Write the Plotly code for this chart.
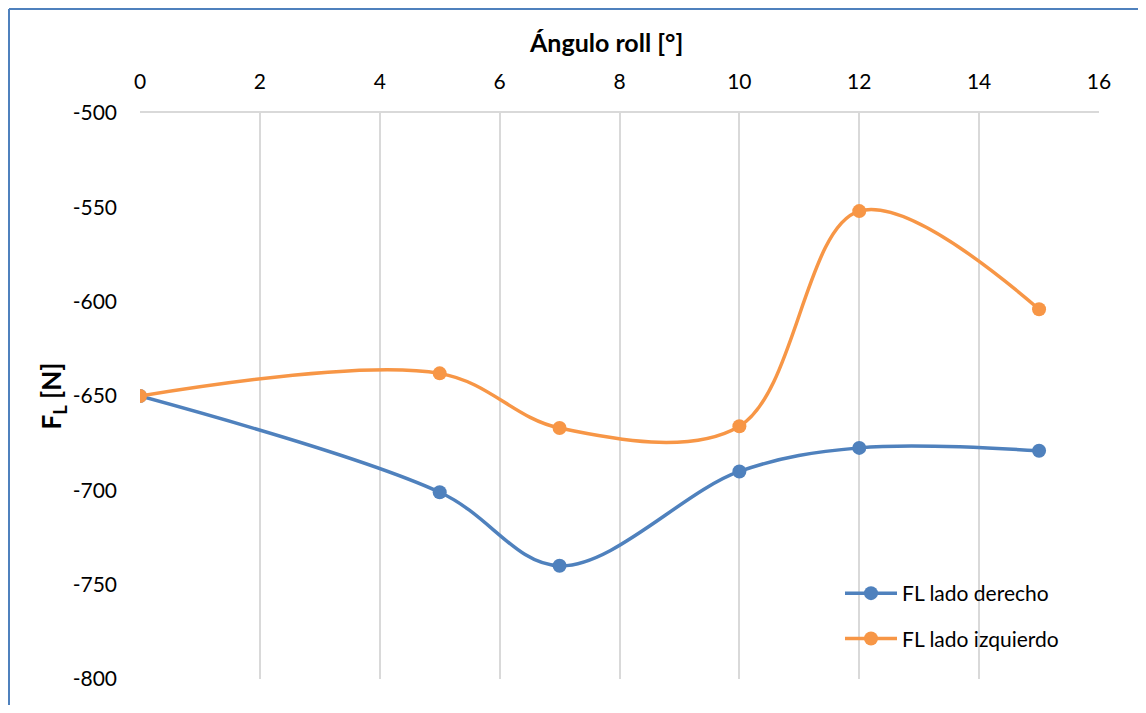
import plotly.graph_objects as go

angles = [0, 5, 7, 10, 12, 15]
fl_derecho = [-650, -701, -740, -690, -677.5, -679]
fl_izquierdo = [-650, -638, -667, -666, -552, -604]
series_names = ["FL lado derecho", "FL lado izquierdo"]
x_ticks = [0, 2, 4, 6, 8, 10, 12, 14, 16]
y_ticks = [-500, -550, -600, -650, -700, -750, -800]
y_tick_labels = ["-500", "-550", "-600", "-650", "-700", "-750", "-800"]

BLUE = "#4F81BD"
ORANGE = "#F79646"
FONT = "Lato"

fig = go.Figure()
fig.add_trace(go.Scatter(
    x=angles, y=fl_derecho, name=series_names[0], mode="lines+markers",
    line=dict(color=BLUE, width=3.5, shape="spline", smoothing=1),
    marker=dict(color=BLUE, size=14), legendgroup="a"))
fig.add_trace(go.Scatter(
    x=angles, y=fl_izquierdo, name=series_names[1], mode="lines+markers",
    line=dict(color=ORANGE, width=3.5, shape="spline", smoothing=1),
    marker=dict(color=ORANGE, size=14), legendgroup="b"))

OFF = 8  # page body margin
W, H = 1146 - 2 * OFF, 713 - 2 * OFF
# plot area in reference (screen) pixel coordinates
PX0, PX1, PY0, PY1 = 140, 1099, 113, 679
L, T = PX0 - OFF, PY0 - OFF
R, B = W - (PX1 - OFF), H - (PY1 - OFF)
pw, ph = PX1 - PX0, PY1 - PY0


def px(xs):
    return (xs - PX0) / pw


def py(ys):
    return (PY1 - ys) / ph


fig.update_layout(
    width=W, height=H,
    margin=dict(l=L, r=R, t=T, b=B, pad=0),
    paper_bgcolor="white", plot_bgcolor="white",
    font=dict(family=FONT, size=21, color="#000000"),
    showlegend=True,
    legend=dict(x=px(840), y=py(573), xanchor="left", yanchor="top",
                bgcolor="rgba(0,0,0,0)", font=dict(size=21, family=FONT),
                tracegroupgap=15, itemwidth=52),
    xaxis=dict(range=[0, 16], tickvals=x_ticks, side="top",
               showgrid=True, gridcolor="#D9D9D9", gridwidth=1.5,
               showline=True, linecolor="#D9D9D9", linewidth=1.5,
               zeroline=False, ticks="", ticklabelstandoff=14,
               tickfont=dict(size=21, family=FONT)),
    yaxis=dict(range=[-800, -500], tickvals=y_ticks, ticktext=y_tick_labels,
               showgrid=False, zeroline=False, showline=False, ticks="",
               ticklabelstandoff=22, tickfont=dict(size=21, family=FONT),
               title=dict(text="<b>F<sub>L</sub> [N]</b>", standoff=3,
                          font=dict(size=26, family=FONT))),
    annotations=[
        dict(text="<b>Ángulo roll [°]</b>", x=px(606), y=py(42), xref="paper", yref="paper",
             showarrow=False, xanchor="center", yanchor="middle",
             font=dict(size=25, family=FONT)),
    ],
    shapes=[
        dict(type="line", xref="paper", yref="paper", x0=px(9), x1=px(1170),
             y0=py(9), y1=py(9), line=dict(color="#4F81BD", width=2)),
        dict(type="line", xref="paper", yref="paper", x0=px(9), x1=px(9),
             y0=py(9), y1=py(740), line=dict(color="#4F81BD", width=2)),
    ],
)

fig.write_html("out.html")
